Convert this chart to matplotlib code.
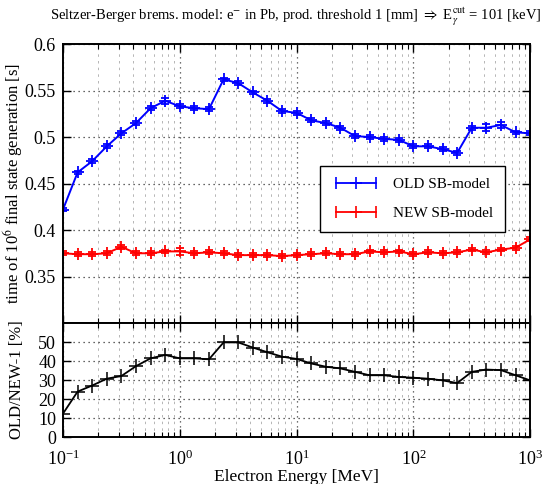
import numpy as np
import matplotlib
matplotlib.use("Agg")
import matplotlib.pyplot as plt
from matplotlib.ticker import LogLocator, FixedLocator
from matplotlib.lines import Line2D
from matplotlib.legend_handler import HandlerLine2D

plt.rcParams['font.family'] = 'serif'
plt.rcParams['font.serif'] = ['Liberation Serif', 'DejaVu Serif']
plt.rcParams['mathtext.fontset'] = 'stix'

# electron energies [MeV], 8 points per decade from 0.1 to 1000
energy = [0.1, 0.1334, 0.1778, 0.2371, 0.3162, 0.4217, 0.5623, 0.7499,
          1.0, 1.334, 1.778, 2.371, 3.162, 4.217, 5.623, 7.499,
          10.0, 13.34, 17.78, 23.71, 31.62, 42.17, 56.23, 74.99,
          100.0, 133.4, 177.8, 237.1, 316.2, 421.7, 562.3, 749.9, 1000.0]

old_time = [0.422, 0.462, 0.474, 0.490, 0.504, 0.515, 0.531, 0.539,
            0.533, 0.531, 0.530, 0.562, 0.558, 0.548, 0.539, 0.528,
            0.526, 0.518, 0.515, 0.510, 0.501, 0.500, 0.498, 0.497,
            0.490, 0.490, 0.487, 0.483, 0.510, 0.510, 0.513, 0.505, 0.504]
old_err = [0.002, 0.002, 0.002, 0.002, 0.002, 0.002, 0.002, 0.003,
           0.002, 0.002, 0.002, 0.002, 0.002, 0.002, 0.002, 0.002,
           0.002, 0.002, 0.002, 0.002, 0.002, 0.002, 0.002, 0.002,
           0.002, 0.002, 0.002, 0.002, 0.002, 0.004, 0.003, 0.002, 0.002]

new_time = [0.375, 0.374, 0.374, 0.375, 0.382, 0.375, 0.375, 0.377,
            0.377, 0.375, 0.376, 0.375, 0.373, 0.373, 0.373, 0.372,
            0.373, 0.374, 0.375, 0.374, 0.374, 0.377, 0.376, 0.377,
            0.374, 0.376, 0.375, 0.376, 0.379, 0.376, 0.379, 0.381, 0.390]
new_err = [0.002, 0.002, 0.002, 0.002, 0.002, 0.002, 0.002, 0.002,
           0.004, 0.002, 0.002, 0.002, 0.002, 0.002, 0.002, 0.002,
           0.002, 0.002, 0.002, 0.002, 0.002, 0.002, 0.002, 0.002,
           0.002, 0.002, 0.002, 0.002, 0.002, 0.002, 0.002, 0.002, 0.002]

ratio = [12.3, 23.9, 27.1, 30.7, 32.1, 37.3, 41.4, 43.2,
         41.4, 41.4, 40.9, 49.8, 49.8, 47.1, 44.6, 42.3,
         41.1, 38.7, 37.0, 36.1, 34.3, 32.5, 32.5, 31.6,
         31.2, 30.7, 29.8, 28.4, 34.3, 35.5, 35.2, 32.5, 29.8]

fig = plt.figure(figsize=(5.42, 4.84), dpi=100)
ax1 = fig.add_axes([0.1162, 0.3326, 0.862, 0.5764])
ax2 = fig.add_axes([0.1162, 0.0971, 0.862, 0.2355], sharex=ax1)


def style_axis(ax):
    ax.set_xscale('log')
    ax.set_xlim(0.1, 1000)
    ax.xaxis.set_major_locator(LogLocator(base=10, numticks=10))
    ax.xaxis.set_minor_locator(LogLocator(base=10, subs=np.arange(2, 10), numticks=20))
    ax.tick_params(which='both', direction='in', top=True, right=True)
    ax.tick_params(which='major', length=6, width=1)
    ax.tick_params(which='minor', length=3.5, width=0.8)
    ax.grid(True, which='major', axis='x', color='#444444', linestyle=(0, (1, 3)), linewidth=0.9)
    ax.grid(True, which='minor', axis='x', color='#aaaaaa', linestyle=(0, (3, 5)), linewidth=0.6)
    ax.grid(True, which='major', axis='y', color='#333333', linestyle=(0, (1, 3)), linewidth=0.9)
    for s in ax.spines.values():
        s.set_linewidth(1.4)
    ax.tick_params(axis='y', labelsize=13, pad=5)
    ax.tick_params(axis='x', labelsize=13, pad=9)


style_axis(ax1)
style_axis(ax2)

ax1.errorbar(energy, old_time, yerr=old_err, color='blue', marker='+', markersize=9,
             markeredgewidth=1.3, linewidth=1.4, capsize=3, elinewidth=1.2)
ax1.errorbar(energy, new_time, yerr=new_err, color='red', marker='+', markersize=9,
             markeredgewidth=1.3, linewidth=1.4, capsize=3, elinewidth=1.2)
ax1.set_ylim(0.3, 0.6)
ax1.yaxis.set_major_locator(FixedLocator([0.35, 0.4, 0.45, 0.5, 0.55, 0.6]))
ax1.set_yticklabels(['0.35', '0.4', '0.45', '0.5', '0.55', '0.6'])
ax1.tick_params(labelbottom=False)
ax1.set_ylabel('time of 10$^6$ final state generation [s]', fontsize=12)
ax1.yaxis.set_label_coords(-0.082, 0.5)

# gnuplot-like legend keys: line with end caps and a + in the middle
handles = []
hmap = {}
for c in ['blue', 'red']:
    caps = Line2D([], [], color=c, marker='|', markersize=9, markeredgewidth=1.2, linewidth=1.3)
    plus = Line2D([], [], color=c, marker='+', markersize=9, markeredgewidth=1.2, linewidth=0)
    hmap[caps] = HandlerLine2D(numpoints=2)
    hmap[plus] = HandlerLine2D(numpoints=1)
    handles.append((caps, plus))
leg = ax1.legend(handles, ['OLD SB-model', 'NEW SB-model'], handler_map=hmap,
                 loc='upper left', bbox_to_anchor=(0.551, 0.563), fontsize=11,
                 fancybox=False, edgecolor='black', framealpha=1,
                 handlelength=3.2, handletextpad=0.8, borderpad=0.75,
                 labelspacing=1.0, borderaxespad=0)
leg.get_frame().set_linewidth(1.0)

ax2.plot(energy, ratio, color='black', marker='+', markersize=10,
         markeredgewidth=1.1, linewidth=1.3)
ax2.set_ylim(0, 60)
ax2.yaxis.set_major_locator(FixedLocator([0, 10, 20, 30, 40, 50]))
ax2.set_ylabel('OLD/NEW-1 [%]', fontsize=12)
ax2.yaxis.set_label_coords(-0.082, 0.5)
ax2.set_xlabel('Electron Energy [MeV]', fontsize=12.5, labelpad=0)

fig.text(0.546, 0.965,
         r'Seltzer-Berger brems. model: e$^{-}$ in Pb, prod. threshold 1 [mm] $\Rightarrow$ E$_{\gamma}^{\rm cut}$ = 101 [keV]',
         ha='center', va='center', fontsize=10.5)

fig.savefig('out.png', dpi=100)
